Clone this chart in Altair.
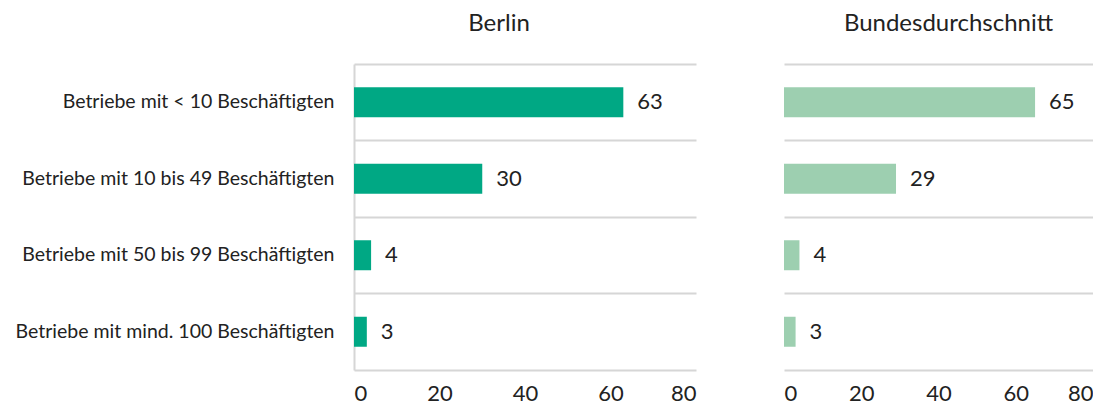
import altair as alt
import pandas as pd

categories = [
    "Betriebe mit < 10 Beschäftigten",
    "Betriebe mit 10 bis 49 Beschäftigten",
    "Betriebe mit 50 bis 99 Beschäftigten",
    "Betriebe mit mind. 100 Beschäftigten",
]
berlin_values = [63, 30, 4, 3]
bund_values = [65, 29, 4, 3]
panel_titles = ["Berlin", "Bundesdurchschnitt"]
x_ticks = [0, 20, 40, 60, 80]

FONT = "Lato"
TXT = "#222222"
LINE = "#d6d6d6"


def panel(values, title, color, width, show_labels, dx):
    df = pd.DataFrame({"cat": categories, "val": values})
    y = alt.Y(
        "cat:N", sort=categories, title=None,
        scale=alt.Scale(paddingInner=0, paddingOuter=0),
        axis=alt.Axis(
            labels=show_labels, ticks=False, domain=show_labels,
            domainColor=LINE, domainWidth=2,
            grid=True, gridColor=LINE, gridWidth=2, bandPosition=0,
            labelFontSize=19.5, labelFont=FONT, labelColor=TXT,
            labelPadding=20, labelLimit=500,
        ),
    )
    x = alt.X(
        "val:Q", title=None,
        scale=alt.Scale(domain=[0, 80], nice=False),
        axis=alt.Axis(
            values=x_ticks, ticks=False, grid=False,
            domainColor=LINE, domainWidth=2,
            labelFontSize=22, labelFont=FONT, labelColor=TXT,
            labelPadding=13,
        ),
    )
    base = alt.Chart(df)
    bars = base.mark_bar(color=color, size=30).encode(x=x, y=y)
    text = base.mark_text(
        align="left", baseline="middle", dx=14, fontSize=22, font=FONT, color=TXT
    ).encode(x="val:Q", y=alt.Y("cat:N", sort=categories), text="val:Q")
    return alt.layer(bars, text).properties(
        width=width, height=306,
        title=alt.TitleParams(
            title, fontSize=24, font=FONT, fontWeight="normal", color=TXT,
            dx=dx, offset=28, frame="group",
        ),
    )


left = panel(berlin_values, panel_titles[0], "#00A884", 342, True, -26)
right = panel(bund_values, panel_titles[1], "#9DCFB0", 309, False, 10)

chart = alt.hconcat(left, right, spacing=88).properties(
    padding={"left": 7, "top": 4, "right": 0, "bottom": 0}
).configure_view(stroke=None)

chart.save("out.html", embed_options={"renderer": "svg", "actions": False})
